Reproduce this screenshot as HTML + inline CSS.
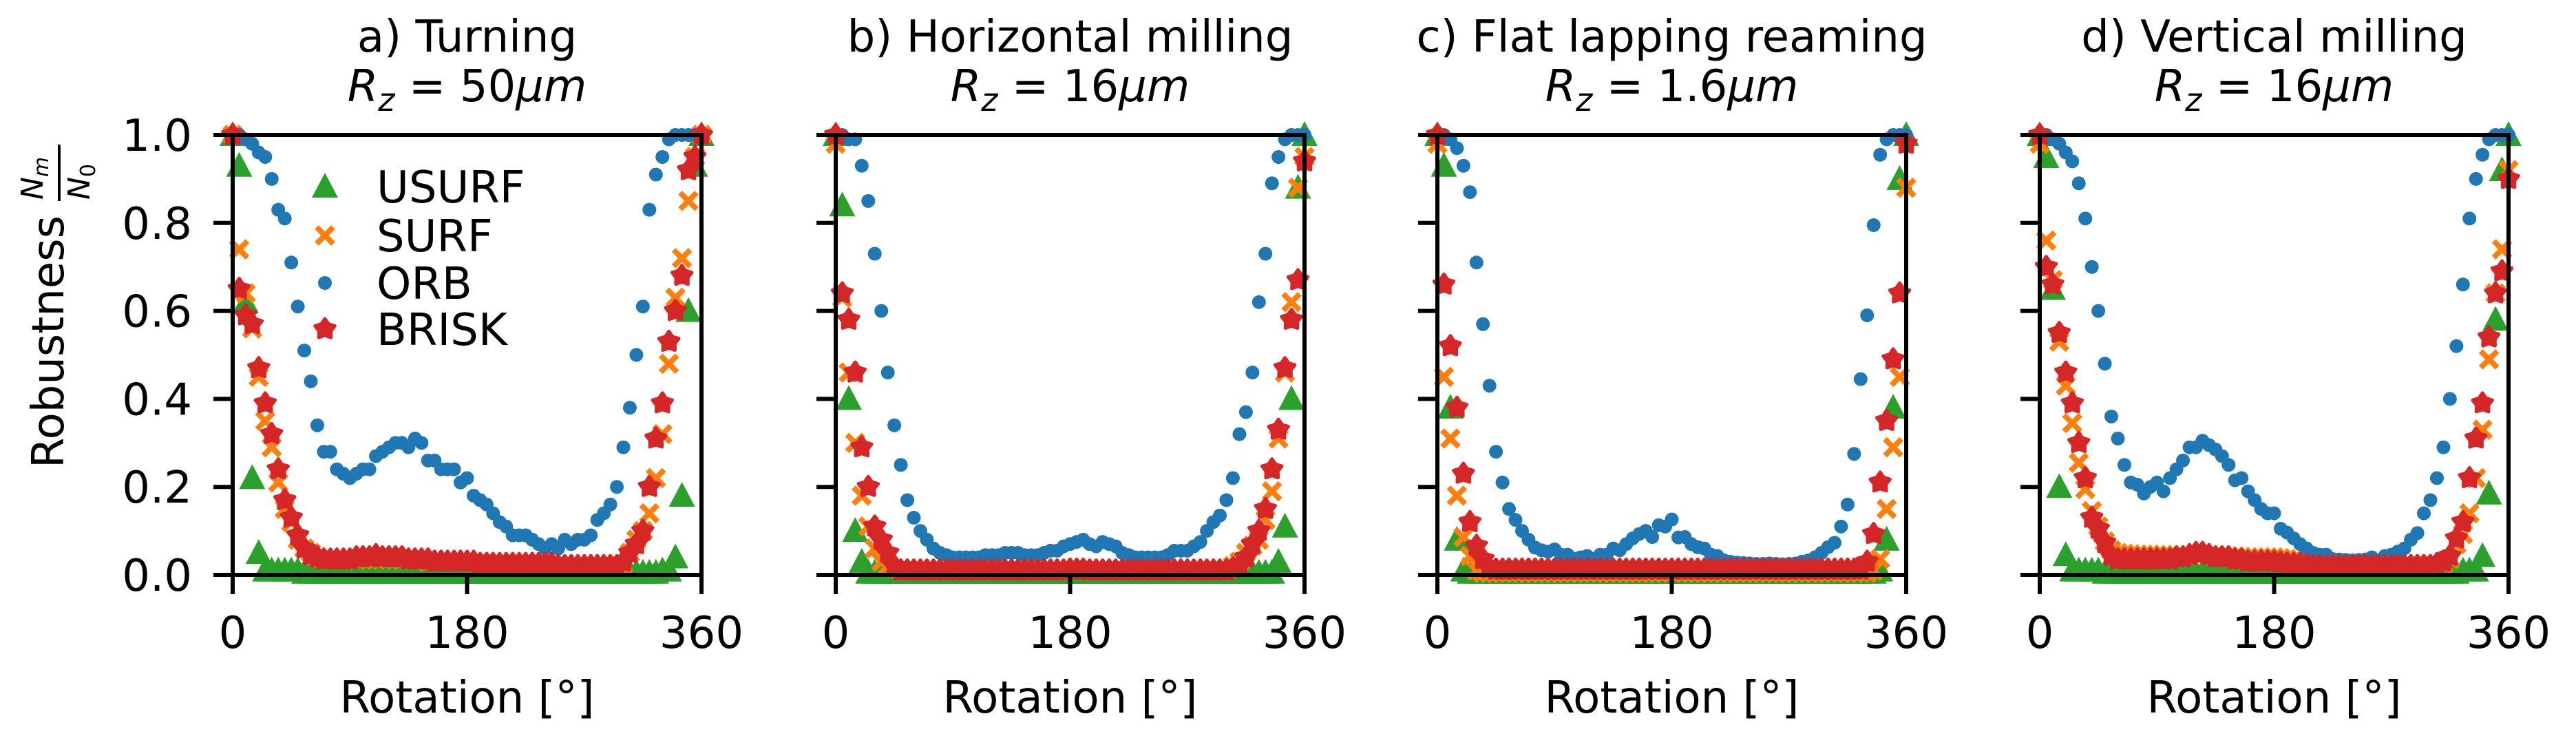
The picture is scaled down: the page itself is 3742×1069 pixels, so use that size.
<!DOCTYPE html>
<html><head><meta charset="utf-8"><style>
html,body{margin:0;padding:0;background:#fff;}
svg{display:block;font-family:"DejaVu Sans","Liberation Sans",sans-serif;}
</style></head><body>
<svg id="fig" width="3742" height="1069" viewBox="0 0 3742 1069" xmlns="http://www.w3.org/2000/svg">
<rect width="3742" height="1069" fill="#fff"/>
<g id="ylab" transform="translate(92,680) rotate(-90)">
<text x="0" y="0" font-size="64" fill="#000">Robustness</text>
<text x="390" y="-30" font-size="44" font-style="italic" fill="#000">N<tspan font-size="30" dy="8">m</tspan></text>
<line x1="388" y1="-6" x2="470" y2="-6" stroke="#000" stroke-width="4"/>
<text x="390" y="38" font-size="44" font-style="italic" fill="#000">N<tspan font-size="30" dy="8" font-style="normal">0</tspan></text>
</g>
</svg>
<script>
const angles=[0,5,10,15,20,25,30,35,40,45,50,55,60,65,70,75,80,85,90,95,100,105,110,115,120,125,130,135,140,145,150,155,160,165,170,175,180,185,190,195,200,205,210,215,220,225,230,235,240,245,250,255,260,265,270,275,280,285,290,295,300,305,310,315,320,325,330,335,340,345,350,355,360];
const panelTitles=["a) Turning","b) Horizontal milling","c) Flat lapping reaming","d) Vertical milling"];
const panelRz=["50","16","1.6","16"];
const yTicks=[0,0.2,0.4,0.6,0.8,1.0];
const yTickLabels=["0.0","0.2","0.4","0.6","0.8","1.0"];
const xTicks=[0,180,360];
const xTickLabels=["0","180","360"];
const seriesNames=["USURF","SURF","ORB","BRISK"];

const usurfA=[1,0.93,0.62,0.22,0.05,0.01,0.01,0.01,0.01,0.01, 0.01,0.005,0.005,0.005,0.005,0.005,0.005,0.005,0.005,0.005, 0.005,0.005,0.005,0.005,0.005,0.005,0.005,0.005,0.005,0.005, 0.005,0.005,0.005,0.005,0.005,0.005,0.005,0.005,0.005,0.005, 0.005,0.005,0.005,0.005,0.005,0.005,0.005,0.005,0.005,0.005, 0.005,0.005,0.005,0.005,0.005,0.005,0.005,0.005,0.005,0.005, 0.005,0.005,0.005,0.005,0.005,0.005,0.01,0.01,0.04,0.18, 0.60,0.93,1];
const surfA=[1,0.74,0.64,0.56,0.45,0.35,0.29,0.21,0.15,0.12, 0.08,0.06,0.05,0.04,0.035,0.035,0.035,0.035,0.035,0.035, 0.035,0.035,0.04,0.04,0.035,0.035,0.035,0.035,0.035,0.035, 0.03,0.03,0.03,0.03,0.03,0.03,0.03,0.03,0.03,0.03, 0.025,0.025,0.025,0.025,0.025,0.025,0.025,0.025,0.025,0.025, 0.02,0.02,0.02,0.02,0.02,0.02,0.02,0.02,0.02,0.02, 0.025,0.05,0.08,0.10,0.14,0.22,0.32,0.48,0.63,0.72, 0.85,0.95,1];
const orbA=[1,1,0.99,0.98,0.96,0.95,0.90,0.83,0.81,0.71, 0.61,0.51,0.44,0.34,0.28,0.28,0.24,0.23,0.22,0.23, 0.24,0.24,0.27,0.28,0.29,0.30,0.30,0.29,0.31,0.30, 0.26,0.26,0.24,0.24,0.24,0.21,0.22,0.18,0.17,0.16, 0.14,0.12,0.11,0.09,0.09,0.09,0.08,0.07,0.06,0.07, 0.06,0.08,0.07,0.08,0.08,0.09,0.125,0.14,0.16,0.20, 0.29,0.38,0.50,0.61,0.83,0.91,0.95,0.99,1,1, 1,1,1];
const briskA=[1,0.65,0.59,0.57,0.47,0.39,0.32,0.24,0.17,0.13, 0.09,0.06,0.045,0.04,0.035,0.035,0.035,0.035,0.035,0.04, 0.04,0.04,0.045,0.04,0.04,0.04,0.04,0.035,0.035,0.035, 0.035,0.03,0.03,0.03,0.03,0.03,0.03,0.03,0.025,0.025, 0.025,0.025,0.025,0.025,0.025,0.025,0.025,0.025,0.025,0.025, 0.02,0.02,0.02,0.02,0.02,0.02,0.02,0.02,0.02,0.02, 0.03,0.05,0.07,0.10,0.20,0.31,0.39,0.53,0.60,0.68, 0.92,0.95,1];

const usurfB=[1,0.84,0.40,0.10,0.03,0.005,0.005,0.005,0.005,0.005, 0.005,0.005,0.005,0.005,0.005,0.005,0.005,0.005,0.005,0.005, 0.005,0.005,0.005,0.005,0.005,0.005,0.005,0.005,0.005,0.005, 0.005,0.005,0.005,0.005,0.005,0.005,0.005,0.005,0.005,0.005, 0.005,0.005,0.005,0.005,0.005,0.005,0.005,0.005,0.005,0.005, 0.005,0.005,0.005,0.005,0.005,0.005,0.005,0.005,0.005,0.005, 0.005,0.005,0.005,0.005,0.005,0.005,0.005,0.005,0.03,0.11, 0.40,0.88,1];
const surfB=[0.98,0.63,0.46,0.30,0.18,0.11,0.06,0.03,0.02,0.015, 0.01,0.01,0.01,0.01,0.01,0.01,0.01,0.01,0.01,0.01, 0.01,0.01,0.01,0.01,0.01,0.01,0.01,0.01,0.01,0.01, 0.01,0.01,0.01,0.01,0.01,0.01,0.01,0.01,0.01,0.01, 0.01,0.01,0.01,0.01,0.01,0.01,0.01,0.01,0.01,0.01, 0.01,0.01,0.01,0.01,0.01,0.01,0.01,0.01,0.01,0.01, 0.01,0.02,0.03,0.05,0.066,0.08,0.125,0.19,0.31,0.46, 0.62,0.88,0.95];
const orbB=[1,1,0.99,0.99,0.93,0.85,0.73,0.60,0.46,0.34, 0.25,0.17,0.13,0.10,0.08,0.06,0.05,0.045,0.04,0.04, 0.04,0.04,0.04,0.045,0.045,0.045,0.05,0.05,0.05,0.045, 0.045,0.045,0.05,0.055,0.055,0.065,0.07,0.075,0.08,0.07, 0.065,0.075,0.07,0.065,0.05,0.045,0.04,0.04,0.04,0.04, 0.04,0.045,0.055,0.055,0.055,0.065,0.075,0.10,0.12,0.135, 0.17,0.22,0.32,0.37,0.46,0.62,0.73,0.89,0.95,0.99, 1,1,1];
const briskB=[1,0.64,0.58,0.46,0.29,0.20,0.11,0.08,0.05,0.02, 0.01,0.01,0.01,0.01,0.01,0.01,0.01,0.01,0.01,0.01, 0.01,0.01,0.01,0.01,0.01,0.01,0.01,0.01,0.01,0.01, 0.01,0.01,0.01,0.01,0.01,0.01,0.012,0.012,0.012,0.01, 0.01,0.01,0.01,0.01,0.01,0.01,0.01,0.01,0.01,0.01, 0.01,0.01,0.01,0.01,0.01,0.01,0.01,0.01,0.01,0.01, 0.01,0.015,0.02,0.04,0.07,0.10,0.15,0.24,0.33,0.47, 0.58,0.67,0.94];

const usurfC=[1,0.93,0.38,0.08,0.01,0.005,0.005,0.005,0.005,0.005, 0.005,0.005,0.005,0.005,0.005,0.005,0.005,0.005,0.005,0.005, 0.005,0.005,0.005,0.005,0.005,0.005,0.005,0.005,0.005,0.005, 0.005,0.005,0.005,0.005,0.005,0.005,0.005,0.005,0.005,0.005, 0.005,0.005,0.005,0.005,0.005,0.005,0.005,0.005,0.005,0.005, 0.005,0.005,0.005,0.005,0.005,0.005,0.005,0.005,0.005,0.005, 0.005,0.005,0.005,0.005,0.005,0.005,0.005,0.005,0.01,0.08, 0.38,0.90,1];
const surfC=[0.98,0.45,0.31,0.18,0.086,0.043,0.01,0.005,0.005,0.005, 0.005,0.005,0.005,0.005,0.005,0.005,0.005,0.005,0.005,0.005, 0.005,0.005,0.005,0.005,0.005,0.005,0.005,0.005,0.005,0.005, 0.005,0.005,0.005,0.005,0.005,0.005,0.005,0.005,0.005,0.005, 0.005,0.005,0.005,0.005,0.005,0.005,0.005,0.005,0.005,0.005, 0.005,0.005,0.005,0.005,0.005,0.005,0.005,0.005,0.005,0.005, 0.005,0.005,0.005,0.005,0.005,0.005,0.005,0.01,0.036,0.15, 0.29,0.45,0.88];
const orbC=[1,1,0.99,0.97,0.93,0.87,0.71,0.57,0.43,0.28, 0.21,0.15,0.125,0.10,0.08,0.062,0.056,0.053,0.058,0.046, 0.046,0.036,0.04,0.043,0.036,0.046,0.046,0.06,0.056,0.07, 0.083,0.093,0.10,0.086,0.113,0.11,0.126,0.085,0.086,0.07, 0.063,0.06,0.046,0.043,0.033,0.03,0.028,0.027,0.026,0.025, 0.025,0.026,0.025,0.024,0.025,0.026,0.03,0.033,0.04,0.05, 0.063,0.073,0.11,0.16,0.275,0.445,0.59,0.795,0.955,0.99, 1,1,1];
const briskC=[1,0.66,0.52,0.38,0.23,0.12,0.066,0.036,0.015,0.012, 0.012,0.012,0.012,0.012,0.012,0.012,0.012,0.012,0.012,0.012, 0.012,0.012,0.012,0.012,0.012,0.012,0.012,0.012,0.012,0.012, 0.012,0.012,0.012,0.012,0.012,0.012,0.012,0.012,0.012,0.012, 0.012,0.012,0.012,0.012,0.012,0.012,0.012,0.012,0.012,0.012, 0.012,0.012,0.012,0.012,0.012,0.012,0.012,0.012,0.012,0.012, 0.012,0.012,0.012,0.012,0.012,0.012,0.03,0.093,0.21,0.35, 0.49,0.64,0.98];

const usurfD=[1,0.95,0.65,0.20,0.045,0.01,0.01,0.01,0.01,0.01, 0.005,0.005,0.005,0.005,0.005,0.005,0.005,0.005,0.005,0.005, 0.005,0.005,0.005,0.005,0.005,0.005,0.005,0.005,0.005,0.005, 0.005,0.005,0.005,0.005,0.005,0.005,0.005,0.005,0.005,0.005, 0.005,0.005,0.005,0.005,0.005,0.005,0.005,0.005,0.005,0.005, 0.005,0.005,0.005,0.005,0.005,0.005,0.005,0.005,0.005,0.005, 0.005,0.005,0.005,0.005,0.005,0.01,0.01,0.01,0.043,0.185, 0.58,0.92,1];
const surfD=[0.98,0.76,0.67,0.53,0.43,0.345,0.255,0.195,0.145,0.11, 0.076,0.056,0.05,0.048,0.047,0.046,0.046,0.046,0.045,0.045, 0.045,0.045,0.045,0.045,0.045,0.045,0.045,0.045,0.044,0.043, 0.042,0.041,0.04,0.04,0.04,0.04,0.04,0.038,0.036,0.034, 0.03,0.03,0.03,0.028,0.028,0.027,0.026,0.025,0.025,0.025, 0.025,0.025,0.025,0.025,0.025,0.025,0.025,0.025,0.025,0.025, 0.025,0.025,0.025,0.036,0.07,0.093,0.14,0.22,0.33,0.49, 0.64,0.74,0.92];
const orbD=[1,1,0.99,0.98,0.96,0.94,0.89,0.81,0.70,0.60, 0.48,0.36,0.31,0.25,0.21,0.205,0.185,0.20,0.21,0.19, 0.22,0.24,0.26,0.29,0.29,0.305,0.295,0.285,0.27,0.25, 0.215,0.22,0.19,0.17,0.15,0.14,0.14,0.105,0.096,0.083, 0.07,0.06,0.05,0.046,0.046,0.036,0.035,0.034,0.033,0.034, 0.035,0.04,0.033,0.043,0.046,0.053,0.06,0.08,0.095,0.14, 0.17,0.22,0.29,0.40,0.52,0.66,0.81,0.90,0.955,0.99, 1,1,1];
const briskD=[1,0.70,0.66,0.55,0.46,0.39,0.30,0.22,0.13,0.105, 0.073,0.043,0.035,0.035,0.035,0.035,0.035,0.035,0.035,0.035, 0.035,0.04,0.04,0.045,0.05,0.05,0.045,0.04,0.04,0.04, 0.035,0.035,0.03,0.03,0.03,0.03,0.03,0.028,0.026,0.025, 0.025,0.022,0.02,0.02,0.02,0.02,0.02,0.02,0.02,0.02, 0.02,0.02,0.02,0.02,0.02,0.02,0.02,0.02,0.02,0.02, 0.02,0.025,0.03,0.043,0.083,0.12,0.22,0.31,0.39,0.54, 0.64,0.69,0.90];

const panelData=[[usurfA,surfA,orbA,briskA],[usurfB,surfB,orbB,briskB],[usurfC,surfC,orbC,briskC],[usurfD,surfD,orbD,briskD]];

const NS="http://www.w3.org/2000/svg";
const svg=document.getElementById("fig");
const axLeft=[338,1214,2088,2963];
const axW=681, axTop=196, axBot=835;
const colors=["#2ca02c","#ff7f0e","#1f77b4","#d62728"];
function mk(tag,attrs,parent){const e=document.createElementNS(NS,tag);for(const k in attrs)e.setAttribute(k,attrs[k]);parent.appendChild(e);return e;}
function starPts(cx,cy,R,r){let p=[];for(let i=0;i<10;i++){const a=-Math.PI/2+i*Math.PI/5;const rr=i%2?r:R;p.push((cx+rr*Math.cos(a)).toFixed(1)+","+(cy+rr*Math.sin(a)).toFixed(1));}return p.join(" ");}
function marker(s,x,y,g){
  let e;
  if(s===0){e=mk("polygon",{points:`${x},${y-20} ${x-19},${y+16} ${x+19},${y+16}`,fill:colors[0]},g);}
  else if(s===1){e=mk("path",{d:`M${x-12},${y-12}L${x+12},${y+12}M${x-12},${y+12}L${x+12},${y-12}`,stroke:colors[1],"stroke-width":8,fill:"none"},g);}
  else if(s===2){e=mk("circle",{cx:x,cy:y,r:10,fill:colors[2]},g);}
  else {e=mk("polygon",{points:starPts(x,y,15,9),fill:colors[3],stroke:colors[3],"stroke-width":5,"stroke-linejoin":"round"},g);}
  return e;
}
for(let p=0;p<4;p++){
  const L=axLeft[p];
  const xs=v=>L+v/360*axW;
  const ys=v=>axBot-v*(axBot-axTop);
  const g=mk("g",{},svg);
  
  
  const cx=L+axW/2;
  const t1=mk("text",{x:cx,y:75,"font-size":64,"text-anchor":"middle"},g);t1.textContent=panelTitles[p];
  
  
  const t2=mk("text",{x:cx,y:147,"font-size":64,"text-anchor":"middle"},g);
  
  
  t2.innerHTML=`<tspan font-style="italic">R</tspan><tspan font-style="italic" font-size="46" dy="14">z</tspan><tspan dy="-14"> = ${panelRz[p]}</tspan><tspan font-style="italic">μm</tspan>`;
  for(let s=0;s<4;s++){
    const sg=mk("g",{},g);
    
    
    const vals=panelData[p][s];
    for(let i=0;i<angles.length;i++){const m=marker(s,xs(angles[i]),ys(vals[i]),sg);
      
      }
  }
  const fr=mk("rect",{x:L,y:axTop,width:axW,height:axBot-axTop,fill:"none",stroke:"#000","stroke-width":6},g);
  
  
  yTicks.forEach((v,i)=>{
    mk("line",{x1:L-28,x2:L,y1:ys(v),y2:ys(v),stroke:"#000","stroke-width":6},g);
    if(p===0){const t=mk("text",{x:279,y:ys(v)+23,"font-size":64,"text-anchor":"end"},g);t.textContent=yTickLabels[i];
      
      }
  });
  xTicks.forEach((v,i)=>{
    mk("line",{x1:xs(v),x2:xs(v),y1:axBot,y2:axBot+28,stroke:"#000","stroke-width":6},g);
    const t=mk("text",{x:xs(v),y:941,"font-size":64,"text-anchor":"middle"},g);t.textContent=xTickLabels[i];
    
    
  });
  const xl=mk("text",{x:cx,y:1035,"font-size":64,"text-anchor":"middle"},g);xl.textContent="Rotation [°]";
  
  
  if(p===0){
    const lg=mk("g",{},g);
    
    
    const ly=[271,342,411,478];
    for(let s=0;s<4;s++){
      const eg=mk("g",{},lg);
      
      
      marker(s,472,ly[s],eg);
      const t=mk("text",{x:547,y:ly[s]+23,"font-size":64},eg);t.textContent=seriesNames[s];
    }
  }
}
</script>
</body></html>
